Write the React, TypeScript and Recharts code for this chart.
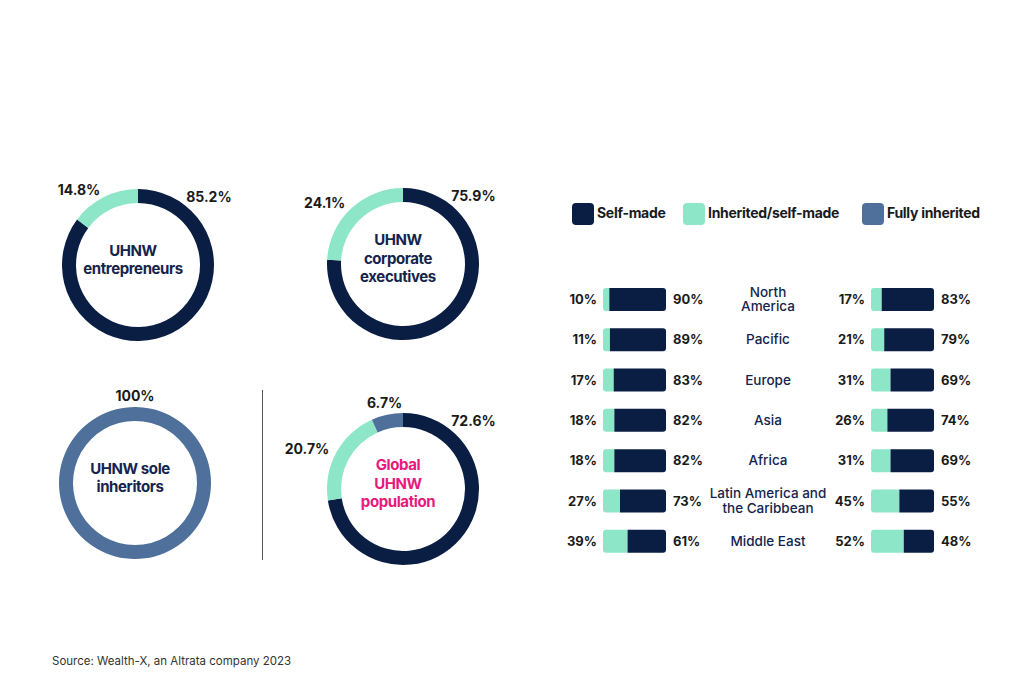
import React from 'react';
import { PieChart, Pie, Cell, BarChart, Bar, XAxis, YAxis, LabelList } from 'recharts';

const SEGMENTS = ['Self-made', 'Inherited/self-made', 'Fully inherited'];
const COLORS = ['#0a1e43', '#8de6c7', '#4e709b'];

// donut shares, in SEGMENTS order
const entrepreneurs = [85.2, 14.8, 0];
const executives = [75.9, 24.1, 0];
const soleInheritors = [0, 0, 100];
const globalPopulation = [72.6, 20.7, 6.7];

const regions = [
  'North\nAmerica',
  'Pacific',
  'Europe',
  'Asia',
  'Africa',
  'Latin America and\nthe Caribbean',
  'Middle East',
];
const leftInherited = [10, 11, 17, 18, 18, 27, 39];
const leftSelfMade = [90, 89, 83, 82, 82, 73, 61];
const rightInherited = [17, 21, 31, 26, 31, 45, 52];
const rightSelfMade = [83, 79, 69, 74, 69, 55, 48];

const FONT = 'Inter, "Noto Sans", sans-serif';
const NAVY_TEXT = '#14244d';

const toSlices = (values: number[]) =>
  SEGMENTS.map((name, i) => ({ name, value: values[i], fill: COLORS[i] })).filter((d) => d.value > 0);

const donuts = [
  { values: entrepreneurs, cx: 133, cy: 260, lines: ['UHNW', 'entrepreneurs'], color: NAVY_TEXT },
  { values: executives, cx: 398, cy: 259, lines: ['UHNW', 'corporate', 'executives'], color: NAVY_TEXT },
  { values: soleInheritors, cx: 130, cy: 478, lines: ['UHNW sole', 'inheritors'], color: NAVY_TEXT },
  { values: globalPopulation, cx: 398, cy: 484, lines: ['Global', 'UHNW', 'population'], color: '#e8197d' },
];

const renderPct = (props: any) => {
  const { cx, cy, outerRadius, midAngle, percent, value } = props;
  const name = props.payload?.name ?? props.name;
  let angle = midAngle;
  let anchor = 'middle';
  let r = outerRadius + 12;
  if (percent > 0.999) angle = 90;
  else if (name === 'Self-made') {
    angle = 55;
    anchor = 'start';
    r = outerRadius + 8;
  } else if (Math.cos((angle * Math.PI) / 180) < -0.3) {
    anchor = 'end';
    r = outerRadius + 8;
  }
  const rad = (angle * Math.PI) / 180;
  return (
    <text
      x={cx + r * Math.cos(rad)}
      y={cy - r * Math.sin(rad)}
      textAnchor={anchor}
      dominantBaseline="central"
      fill="#1a1a1a"
      fontFamily={FONT}
      fontSize={14}
      fontWeight={700}
    >
      {`${value}%`}
    </text>
  );
};

const RegionTick = (props: any) => {
  const { x, y, payload } = props;
  const lines = String(payload.value).split('\n');
  const cxText = x + 102;
  return (
    <text textAnchor="middle" fill={NAVY_TEXT} fontFamily={FONT} fontSize={13.5} fontWeight={500}>
      {lines.map((l, i) => (
        <tspan key={i} x={cxText} y={y + (i - (lines.length - 1) / 2) * 14.5} dominantBaseline="central">
          {l}
        </tspan>
      ))}
    </text>
  );
};

const pctLabel = (v: any) => `${v}%`;
const labelStyle = { fill: '#1a1a1a', fontFamily: FONT, fontSize: 13, fontWeight: 700 };

function RegionBars({ data, withTicks, width }: { data: any[]; withTicks: boolean; width: number }) {
  return (
    <BarChart
      layout="vertical"
      width={width}
      height={282}
      data={data}
      margin={{ top: 0, right: withTicks ? 0 : 40, bottom: 0, left: 43 }}
      barSize={23}
    >
      <XAxis type="number" domain={[0, 100]} hide />
      {withTicks ? (
        <YAxis
          type="category"
          dataKey="region"
          orientation="right"
          width={200}
          axisLine={false}
          tickLine={false}
          tickSize={0}
          tickMargin={0}
          interval={0}
          tick={<RegionTick />}
        />
      ) : (
        <YAxis type="category" dataKey="region" hide />
      )}
      <Bar dataKey="inherited" stackId="a" fill={COLORS[1]} radius={[3, 0, 0, 3]} isAnimationActive={false}>
        <LabelList dataKey="inherited" position="left" offset={6} formatter={pctLabel} {...labelStyle} />
      </Bar>
      <Bar dataKey="selfMade" stackId="a" fill={COLORS[0]} radius={[0, 3, 3, 0]} isAnimationActive={false}>
        <LabelList dataKey="selfMade" position="right" offset={7} formatter={pctLabel} {...labelStyle} />
      </Bar>
    </BarChart>
  );
}

export default function App() {
  const leftData = regions.map((region, i) => ({ region, inherited: leftInherited[i], selfMade: leftSelfMade[i] }));
  const rightData = regions.map((region, i) => ({ region, inherited: rightInherited[i], selfMade: rightSelfMade[i] }));

  return (
    <div style={{ position: 'absolute', left: 0, top: 0, width: 1024, height: 682, background: '#fff', fontFamily: FONT, overflow: 'hidden' }}>
      <div style={{ position: 'absolute', left: 0, top: 0 }}>
        <PieChart width={540} height={682}>
          {donuts.map((d, k) => (
            <Pie
              key={k}
              data={toSlices(d.values)}
              dataKey="value"
              nameKey="name"
              cx={d.cx}
              cy={d.cy}
              innerRadius={62}
              outerRadius={76}
              startAngle={90}
              endAngle={-270}
              stroke="none"
              label={renderPct}
              labelLine={false}
              isAnimationActive={false}
            >
              {toSlices(d.values).map((s) => (
                <Cell key={s.name} fill={s.fill} />
              ))}
            </Pie>
          ))}
        </PieChart>
      </div>

      {donuts.map((d, k) => (
        <div
          key={k}
          style={{
            position: 'absolute',
            left: d.cx - 60,
            top: d.cy - (d.lines.length * 18.5) / 2,
            width: 120,
            textAlign: 'center',
            color: d.color,
            fontSize: 15,
            fontWeight: 700,
            lineHeight: '18.5px',
            letterSpacing: -0.4,
          }}
        >
          {d.lines.map((l) => (
            <div key={l}>{l}</div>
          ))}
        </div>
      ))}

      <div style={{ position: 'absolute', left: 262, top: 390, width: 1, height: 170, background: '#555' }} />

      {SEGMENTS.map((name, i) => (
        <div key={name} style={{ position: 'absolute', left: [572, 683, 862][i], top: 203, display: 'flex', alignItems: 'center' }}>
          <div style={{ width: 22, height: 22, borderRadius: 4, background: COLORS[i] }} />
          <span style={{ marginLeft: 3, marginTop: -4, fontSize: 14, fontWeight: 700, color: '#1a1a1a', letterSpacing: -0.3 }}>{name}</span>
        </div>
      ))}

      <div style={{ position: 'absolute', left: 560, top: 279 }}>
        <RegionBars data={leftData} withTicks width={306} />
      </div>
      <div style={{ position: 'absolute', left: 828, top: 279 }}>
        <RegionBars data={rightData} withTicks={false} width={146} />
      </div>

      <div style={{ position: 'absolute', left: 52, top: 654, fontSize: 11.5, color: '#333' }}>
        Source: Wealth-X, an Altrata company 2023
      </div>
    </div>
  );
}
